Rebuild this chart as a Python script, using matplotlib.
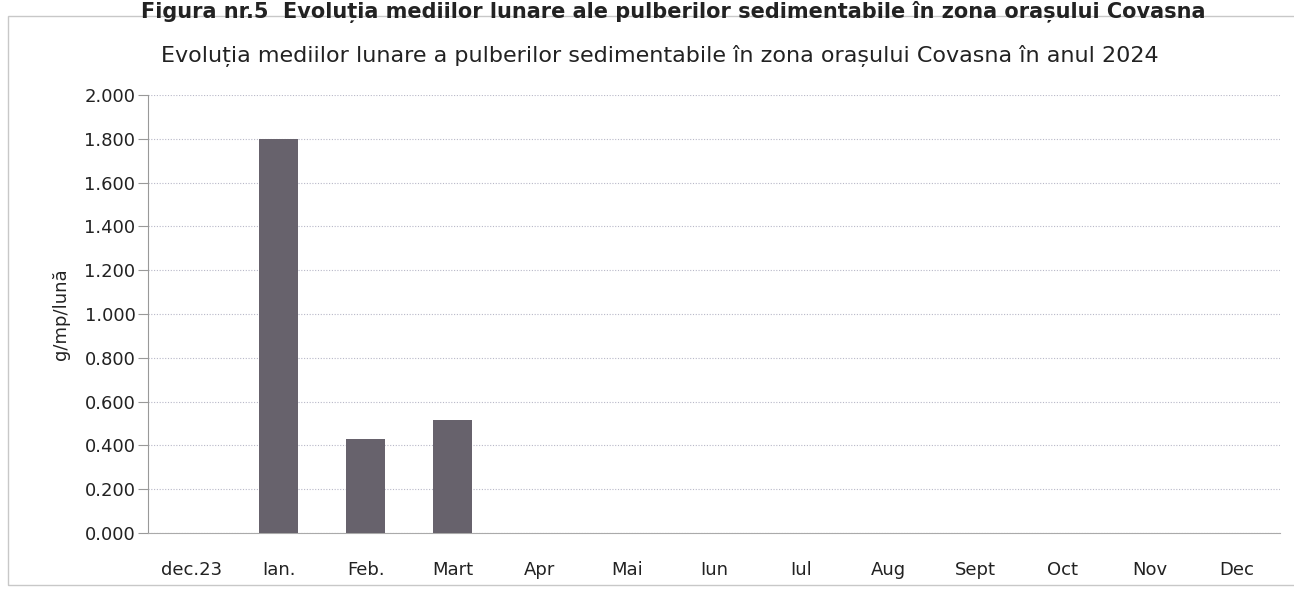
import numpy as np
from matplotlib import pyplot as plt
from matplotlib.patches import Rectangle

luni = ['dec.23', 'Ian.', 'Feb.', 'Mart', 'Apr', 'Mai', 'Iun', 'Iul',
        'Aug', 'Sept', 'Oct', 'Nov', 'Dec']
valori = [0.0, 1.80, 0.43, 0.515, 0, 0, 0, 0, 0, 0, 0, 0, 0]
y_ticks = [0.0, 0.2, 0.4, 0.6, 0.8, 1.0, 1.2, 1.4, 1.6, 1.8, 2.0]

plt.rcParams['font.family'] = ['DejaVu Sans']

fig = plt.figure(figsize=(12.94, 5.89), dpi=100)
W, H = 1294, 589

# chenarul graficului
fig.patches.append(Rectangle((8 / W, 4 / H), 1300 / W, (589 - 20) / H,
                             transform=fig.transFigure, fill=False,
                             edgecolor='#c8c8c8', linewidth=1.0))

# titlul figurii (sus, in original e taiat)
fig.text(0.52, 1.0 - 1 / H, 'Figura nr.5  Evoluția mediilor lunare ale pulberilor sedimentabile în zona orașului Covasna',
         ha='center', va='top', fontsize=15, fontweight='bold', color='#222222')

ax = fig.add_axes([148 / W, (H - 533) / H, (1280 - 148) / W, (533 - 95) / H])

x = np.arange(len(luni))
ax.bar(x, valori, width=0.45, color='#67626c', zorder=3)

ax.set_xlim(-0.5, len(luni) - 0.5)
ax.set_ylim(0, 2.0)
ax.set_yticks(y_ticks)
ax.set_yticklabels([f'{v:.3f}' for v in y_ticks], fontsize=13, color='#222222')
ax.set_xticks(x)
ax.set_xticklabels(luni, fontsize=13, color='#222222')
ax.tick_params(axis='x', length=0, pad=20)
ax.tick_params(axis='y', length=7, color='#999999', pad=2)

ax.grid(axis='y', linestyle=(0, (1, 1.5)), color='#b8b8c8', linewidth=0.8, zorder=0)
for s in ['top', 'right']:
    ax.spines[s].set_visible(False)
ax.spines['left'].set_color('#999999')
ax.spines['bottom'].set_color('#aaaaaa')

ax.set_ylabel('g/mp/lună', fontsize=13, color='#222222', labelpad=10)
ax.set_title('Evoluția mediilor lunare a pulberilor sedimentabile în zona orașului Covasna în anul 2024',
             fontsize=16, color='#222222', pad=24, x=0.452)

fig.savefig('out.png', dpi=100)
